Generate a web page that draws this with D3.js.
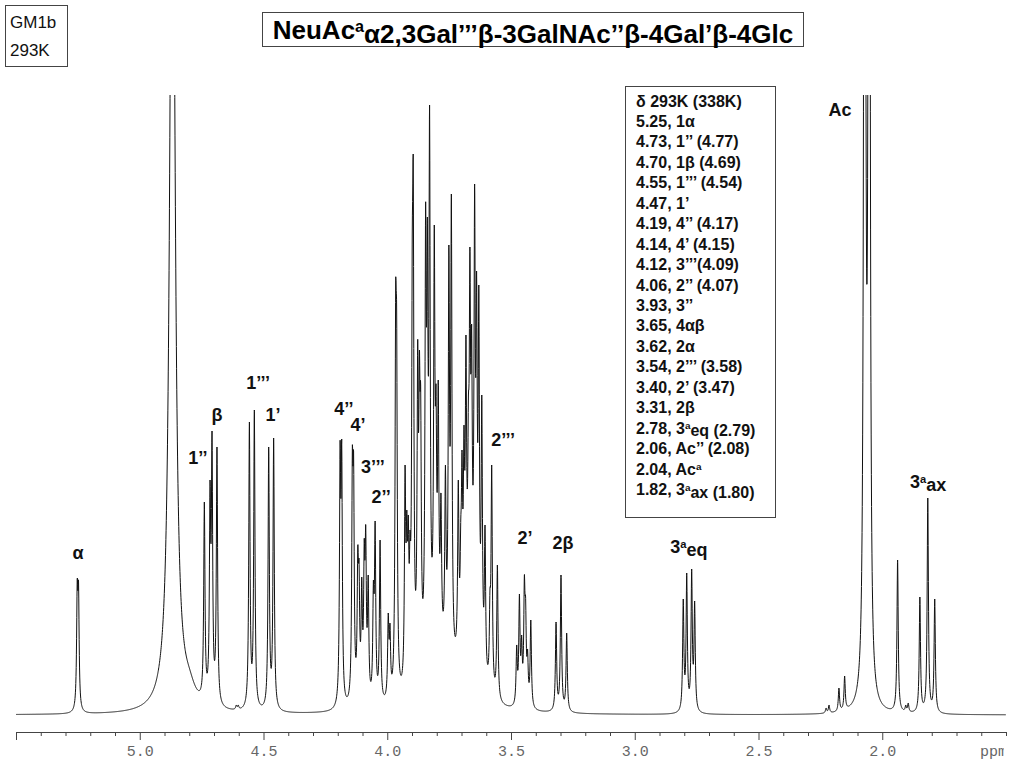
<!DOCTYPE html>
<html>
<head>
<meta charset="utf-8">
<script src="https://cdn.jsdelivr.net/npm/d3@7"></script>
<style>
  body { margin: 0; background: #fff; }
  svg { display: block; }
</style>
</head>
<body>
<svg id="chart" width="1024" height="768"></svg>
<script>
// narrow lines: position (ppm) and apex height
const peakPpm = [
  5.2526, 5.2474,
  4.610, 4.602,
  4.739, 4.716, 4.708, 4.688,
  4.557, 4.537, 4.479, 4.459,
  4.1905, 4.184, 4.141, 4.136,
  4.119, 4.114, 4.103, 4.093, 4.087, 4.077, 4.056, 4.049, 4.029, 3.996, 3.989,
  3.966, 3.962, 3.928, 3.921, 3.915, 3.908, 3.899, 3.895,
  3.877, 3.870, 3.865, 3.845, 3.838, 3.829,
  3.810, 3.803, 3.794, 3.783, 3.765, 3.751, 3.741,
  3.713, 3.703, 3.698, 3.690, 3.682, 3.672, 3.666, 3.659, 3.647, 3.639, 3.630, 3.618, 3.605,
  3.585, 3.578, 3.555,
  3.477, 3.466, 3.457, 3.446, 3.441, 3.433, 3.420,
  3.318, 3.298, 3.275,
  2.804, 2.790, 2.770, 2.758,
  2.227, 2.215, 2.175, 2.152,
  2.071, 2.053,
  1.938, 1.905, 1.895,
  1.848, 1.816, 1.788
];
const peakHeight = [
  136, 134,
  10, 10,
  213, 235, 284, 268,
  293, 305, 268, 277,
  274, 276, 268, 264,
  170, 155, 138, 176, 190, 140, 135, 194, 175, 102, 92,
  430, 405, 250, 205, 200, 185, 480, 556,
  375, 365, 330, 512, 498, 610,
  490, 330, 335, 222, 250, 470, 521,
  235, 195, 265, 290, 380, 320, 468, 390, 531, 444, 430, 320, 190,
  126, 250, 150,
  70, 121, 80, 140, 118, 66, 95,
  93, 140, 82,
  116, 142, 146, 114,
  7, 10, 27, 39,
  2200, 2200,
  155, 10, 12,
  118, 217, 116
];

// broad bands: HOD, its shoulder, the unresolved hump under 3.6-3.9 ppm
const bandPpm = [4.868, 4.80, 3.80, 3.67];
const bandHeight = [1000, 15, 50, 70];
const bandWidth = [0.0121, 0.03, 0.06, 0.03];

// assignment labels over the peaks
const labelText = ['α', '1’’', 'β', '1’’’', '1’', '4’’', '4’', '3’’’', '2’’', '2’’’', '2’', '2β', '3^aeq', 'Ac', '3^aax'];
const labelPpm = [5.249, 4.765, 4.688, 4.522, 4.462, 4.175, 4.118, 4.058, 4.025, 3.532, 3.443, 3.290, 2.781, 2.171, 1.815];
const labelLevel = [162, 257, 300, 332, 300, 306, 290, 248, 218, 275, 177, 172, 168, 605, 233];

const legendLines = [
  'δ 293K (338K)', '5.25, 1α', '4.73, 1’’ (4.77)', '4.70, 1β (4.69)', '4.55, 1’’’ (4.54)',
  '4.47, 1’', '4.19, 4’’ (4.17)', '4.14, 4’ (4.15)', '4.12, 3’’’(4.09)', '4.06, 2’’ (4.07)',
  '3.93, 3’’', '3.65, 4αβ', '3.62, 2α', '3.54, 2’’’ (3.58)', '3.40, 2’ (3.47)',
  '3.31, 2β', '2.78, 3^aeq (2.79)', '2.06, Ac’’ (2.08)', '2.04, Ac^a', '1.82, 3^aax (1.80)'
];

const titleText = 'NeuAc^aα2,3Gal’’’β-3GalNAc’’β-4Gal’β-4Glc';
const sampleText = ['GM1b', '293K'];

const majorTicks = [5.5, 5.0, 4.5, 4.0, 3.5, 3.0, 2.5, 2.0];

const svg = d3.select('#chart');
const x = d3.scaleLinear().domain([5.5, 1.5]).range([16, 1006]);
const y = d3.scaleLinear().domain([0, 620]).range([715, 95]);

const lw = 0.003;
const lor = (d, w) => 1 / (1 + (d / w) * (d / w));

function bands(p) {
  let s = 0;
  bandPpm.forEach((c, i) => { s += bandHeight[i] * lor(p - c, bandWidth[i]); });
  return s;
}

// scale the line amplitudes so the summed curve goes through each read apex
let amp = peakHeight.slice();
for (let it = 0; it < 80; it++) {
  amp = amp.map((a, i) => {
    let s = bands(peakPpm[i]);
    peakPpm.forEach((c, j) => { s += amp[j] * lor(peakPpm[i] - c, lw); });
    return Math.max(0, a + 0.6 * (peakHeight[i] - s));
  });
}

function spectrum(p) {
  let s = bands(p);
  for (let j = 0; j < peakPpm.length; j++) s += amp[j] * lor(p - peakPpm[j], lw);
  return s;
}

const grid = d3.range(5.5, 1.5, -0.0008).concat(peakPpm).sort((a, b) => b - a);
const pts = grid.map(p => [p, spectrum(p)]);

svg.append('clipPath').attr('id', 'plotclip')
  .append('rect').attr('x', 16).attr('y', 95).attr('width', 990).attr('height', 630);

svg.append('path')
  .datum(pts)
  .attr('clip-path', 'url(#plotclip)')
  .attr('fill', 'none')
  .attr('stroke', '#111')
  .attr('stroke-width', 1)
  .attr('stroke-linejoin', 'round')
  .attr('d', d3.line().x(d => x(d[0])).y(d => y(d[1])));

// axis
const minorTicks = d3.range(15, 56).map(v => v / 10).filter(v => majorTicks.indexOf(v) < 0);

const axisG = svg.append('g').attr('transform', 'translate(0,732)');
axisG.call(d3.axisBottom(x).tickValues(majorTicks).tickSize(8).tickSizeOuter(0).tickPadding(5)
  .tickFormat(d => d === 5.5 ? '' : d3.format('.1f')(d)));
axisG.append('g').call(d3.axisBottom(x).tickValues(minorTicks).tickSize(4).tickSizeOuter(0).tickFormat(''))
  .select('.domain').remove();
axisG.selectAll('.domain, line').attr('stroke', '#444');
axisG.selectAll('text')
  .attr('fill', '#666')
  .style('font-family', '"Liberation Mono", "DejaVu Sans Mono", monospace')
  .style('font-size', '15px');

svg.append('clipPath').attr('id', 'unitclip')
  .append('rect').attr('x', 960).attr('y', 735).attr('width', 44).attr('height', 30);
svg.append('text')
  .attr('clip-path', 'url(#unitclip)')
  .attr('x', 980).attr('y', 756)
  .attr('fill', '#666')
  .style('font-family', '"Liberation Mono", "DejaVu Sans Mono", monospace')
  .style('font-size', '15px')
  .text('ppm');

// text with "^a" superscripts
function rich(sel, str) {
  str.split('^a').forEach((part, i) => {
    if (i > 0) {
      sel.append('tspan').attr('dy', '-0.45em').style('font-size', '0.62em').text('a');
      sel.append('tspan').attr('dy', '0.45em').text(part);
    } else {
      sel.append('tspan').text(part);
    }
  });
}

const bold = '"Liberation Sans", Arial, sans-serif';

svg.append('g').selectAll('text')
  .data(labelText)
  .join('text')
  .attr('x', (d, i) => x(labelPpm[i]))
  .attr('y', (d, i) => y(labelLevel[i]) + 6)
  .attr('text-anchor', 'middle')
  .style('font-family', bold)
  .style('font-weight', 'bold')
  .style('font-size', '18px')
  .attr('fill', '#111')
  .each(function (d) { rich(d3.select(this), d); });

// shift legend
svg.append('rect')
  .attr('x', 625.5).attr('y', 86.5).attr('width', 150).attr('height', 431)
  .attr('fill', '#fff').attr('stroke', '#444');
svg.append('g').selectAll('text')
  .data(legendLines)
  .join('text')
  .attr('x', 636)
  .attr('y', (d, i) => 106.5 + i * 20.45)
  .style('font-family', bold)
  .style('font-weight', 'bold')
  .style('font-size', '16px')
  .attr('fill', '#111')
  .each(function (d) { rich(d3.select(this), d); });

// title
svg.append('rect')
  .attr('x', 262.5).attr('y', 12.5).attr('width', 541).attr('height', 34)
  .attr('fill', '#fff').attr('stroke', '#444');
const title = svg.append('text')
  .attr('x', 533).attr('y', 39)
  .attr('text-anchor', 'middle')
  .style('font-family', bold)
  .style('font-weight', 'bold')
  .style('font-size', '26px')
  .attr('fill', '#000');
rich(title, titleText);

// sample box
svg.append('rect')
  .attr('x', 5.5).attr('y', 5.5).attr('width', 62).attr('height', 61)
  .attr('fill', '#fff').attr('stroke', '#444');
svg.append('g').selectAll('text')
  .data(sampleText)
  .join('text')
  .attr('x', 10)
  .attr('y', (d, i) => 28 + i * 28)
  .style('font-family', bold)
  .style('font-size', '17px')
  .attr('fill', '#111')
  .text(d => d);
</script>
</body>
</html>
